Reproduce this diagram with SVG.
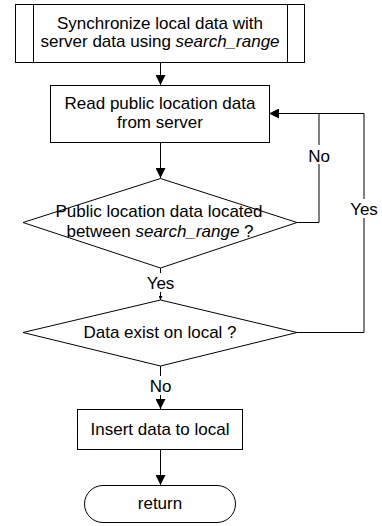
<svg xmlns="http://www.w3.org/2000/svg" width="382" height="526" viewBox="0 0 382 526">
<style>
.s{fill:#fff;stroke:#000;stroke-width:1}
.t{font-family:"Liberation Sans",Arial,sans-serif;font-size:17px;fill:#000;text-anchor:middle}
.i{font-style:italic}
.c{fill:none;stroke:#000;stroke-width:1}
.lb{fill:#fff}
</style>
<defs>
<marker id="ah" viewBox="0 0 10 10" refX="10" refY="5" markerWidth="10" markerHeight="10" markerUnits="userSpaceOnUse" orient="auto">
<path d="M0,0 L10,5 L0,10 z" fill="#000"/>
</marker>
<marker id="ahs" viewBox="0 0 10 10" refX="10" refY="5" markerWidth="4" markerHeight="4" markerUnits="userSpaceOnUse" orient="auto">
<path d="M0,0 L10,5 L0,10 z" fill="#000"/>
</marker>
</defs>
<rect width="382" height="526" fill="#fff"/>
<g id="connectors">
<line class="c" x1="160.5" y1="62" x2="160.5" y2="85" marker-end="url(#ah)"/>
<line class="c" x1="160.5" y1="142" x2="160.5" y2="178" marker-end="url(#ah)"/>
<path class="c" d="M297,222.5 H319 V113.5 H269" marker-end="url(#ah)"/>
<path class="c" d="M297,332.5 H364 V113.5 H319"/>
<line class="c" x1="160.5" y1="268" x2="160.5" y2="300" marker-end="url(#ahs)"/>
<line class="c" x1="160.5" y1="366" x2="160.5" y2="409" marker-end="url(#ah)"/>
<line class="c" x1="160.5" y1="449" x2="160.5" y2="485" marker-end="url(#ah)"/>
<rect class="lb" x="307" y="145" width="24" height="19"/>
<text class="t" x="319" y="162">No</text>
<rect class="lb" x="349" y="199" width="30" height="19"/>
<text class="t" x="364" y="215">Yes</text>
<rect class="lb" x="144" y="273" width="33" height="19"/>
<text class="t" x="160.5" y="289">Yes</text>
<rect class="lb" x="148" y="376" width="25" height="19"/>
<text class="t" x="160.5" y="392">No</text>
</g>
<g id="sync">
<rect class="s" x="15.5" y="4.5" width="289" height="58"/>
<line class="c" x1="33.5" y1="4.5" x2="33.5" y2="62.5"/>
<line class="c" x1="287.5" y1="4.5" x2="287.5" y2="62.5"/>
<text class="t" x="160" y="29">Synchronize local data with</text>
<text class="t" x="160" y="47">server data using <tspan class="i">search_range</tspan></text>
</g>
<g id="read">
<rect class="s" x="50.5" y="85.5" width="219" height="57"/>
<text class="t" x="160" y="109">Read public location data</text>
<text class="t" x="160" y="128">from server</text>
</g>
<g id="between">
<polygon class="s" points="160.5,178.5 297,222.5 160.5,268 23,222.5"/>
<text class="t" x="159" y="217">Public location data located</text>
<text class="t" x="160" y="237">between <tspan class="i">search_range</tspan> ?</text>
</g>
<g id="exist">
<polygon class="s" points="160.5,300 297,332.5 160.5,366 23,332.5"/>
<text class="t" x="160" y="338">Data exist on local ?</text>
</g>
<g id="insert">
<rect class="s" x="77.5" y="409.5" width="165" height="40"/>
<text class="t" x="160" y="435">Insert data to local</text>
</g>
<g id="return">
<rect class="s" x="84.5" y="485.5" width="151" height="37" rx="18.5" ry="18.5"/>
<text class="t" x="160" y="509">return</text>
</g>
</svg>
